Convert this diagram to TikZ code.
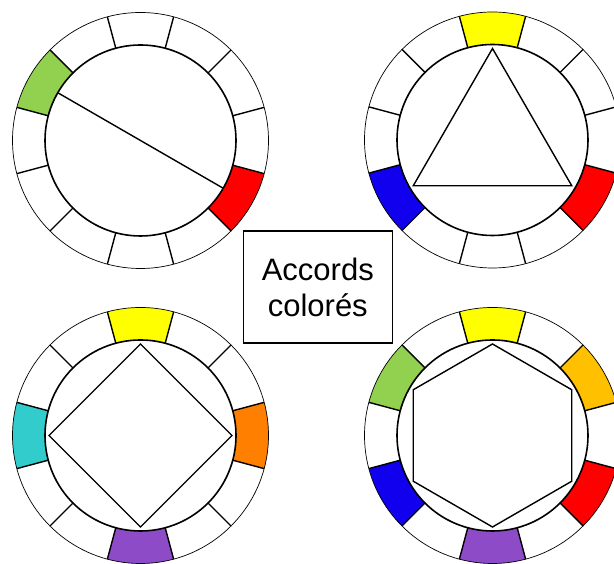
\documentclass[tikz,border=0pt]{standalone}
\usepackage{fontspec}
\setmainfont{Liberation Sans}
\definecolor{vert}{HTML}{92D050}
\definecolor{rouge}{HTML}{FF0000}
\definecolor{jaune}{HTML}{FFFF00}
\definecolor{bleu}{HTML}{1000EE}
\definecolor{cyan}{HTML}{33CCCC}
\definecolor{orange}{HTML}{FF8000}
\definecolor{violet}{HTML}{8E4BC8}
\definecolor{ambre}{HTML}{FFC000}
\begin{document}
\begin{tikzpicture}[
outer/.style={circle, draw=black, line width=0.7pt, minimum size=256pt, inner sep=0pt, outer sep=0pt},
inner/.style={circle, draw=black, line width=1.6pt, minimum size=191pt, inner sep=0pt, outer sep=0pt},
accord/.style={circle, minimum size=183pt, inner sep=0pt, outer sep=0pt},
divider/.style={draw=black, line width=1.4pt},
chord/.style={draw=black, line width=1.4pt, line join=miter},
title/.style={rectangle, draw=black, line width=1.2pt, minimum width=149pt, minimum height=112pt, align=center, font=\fontsize{31}{36}\selectfont},
]
\useasboundingbox (0,0) rectangle (614pt,564pt);
\coordinate (w1) at (140.5pt,423.5pt);
\coordinate (w2) at (492.5pt,424pt);
\coordinate (w3) at (140.5pt,128.5pt);
\coordinate (w4) at (492.5pt,128.5pt);
\foreach \w/\a/\c in {w1/150/vert, w1/330/rouge,
	w2/90/jaune, w2/210/bleu, w2/330/rouge,
	w3/90/jaune, w3/0/orange, w3/270/violet, w3/180/cyan,
	w4/90/jaune, w4/30/ambre, w4/330/rouge, w4/270/violet, w4/210/bleu, w4/150/vert}
	\fill[\c, shift={(\w)}] (\a-15:95.5pt) arc[start angle=\a-15, end angle=\a+15, radius=95.5pt]
		-- (\a+15:128pt) arc[start angle=\a+15, end angle=\a-15, radius=128pt] -- cycle;
\foreach \n in {1,2,3,4} {
	\node (o\n) [outer] at (w\n) {};
	\node (i\n) [inner] at (w\n) {};
	\node (p\n) [accord] at (w\n) {};
	\foreach \a in {15,45,...,345}
		\draw[divider] (i\n.\a) -- (o\n.\a);
}
\draw[chord] (i1.150) -- (i1.330);
\draw[chord] (p2.90) -- (p2.210) -- (p2.330) -- cycle;
\draw[chord] (p3.90) -- (p3.180) -- (p3.270) -- (p3.0) -- cycle;
\draw[chord] (p4.90) -- (p4.150) -- (p4.210) -- (p4.270) -- (p4.330) -- (p4.30) -- cycle;
\node (titre) [title] at (317.8pt,277pt) {Accords\\colorés};
\end{tikzpicture}
\end{document}
